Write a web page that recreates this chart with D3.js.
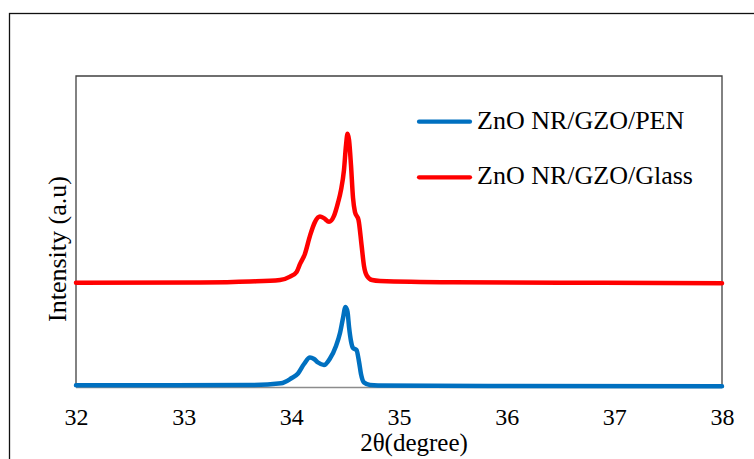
<!DOCTYPE html>
<html>
<head>
<meta charset="utf-8">
<script src="https://cdn.jsdelivr.net/npm/d3@7"></script>
<style>
  body { margin: 0; background: #fff; }
  svg text { font-family: "Liberation Serif", "Times New Roman", Times, "DejaVu Serif", serif; fill: #000; }
</style>
</head>
<body>
<svg id="chart" width="754" height="459"></svg>
<script>
// 2theta (degree) and intensity (a.u.)
const penAngle = [32.000, 33.616, 33.904, 33.997, 34.062, 34.118, 34.173, 34.211, 34.248, 34.303,
  34.359, 34.415, 34.452, 34.480, 34.503, 34.522, 34.536, 34.554, 34.573, 34.605,
  34.629, 34.647, 34.675, 34.731, 34.805, 35.938, 38.000]
const penIntensity = [0.55, 0.64, 1.19, 2.73, 4.34, 7.40, 9.49, 9.00, 7.88, 7.07,
  9.16, 13.18, 17.36, 22.19, 25.72, 24.12, 19.29, 14.79, 12.54, 11.90,
  8.04, 4.18, 1.45, 0.64, 0.48, 0.32, 0.23]

const glassAngle = [32.000, 33.152, 33.616, 33.895, 33.988, 34.049, 34.080, 34.126, 34.173, 34.220,
  34.266, 34.303, 34.350, 34.396, 34.433, 34.461, 34.489, 34.508, 34.522, 34.536,
  34.554, 34.573, 34.591, 34.624, 34.652, 34.675, 34.703, 34.750, 34.824, 35.502,
  36.895, 38.000]
const glassIntensity = [33.5, 33.6, 33.9, 34.4, 35.5, 37.0, 39.5, 42.8, 48.6, 53.1,
  54.8, 54.3, 53.1, 55.0, 59.2, 63.3, 69.8, 77.8, 81.4, 79.4,
  71.4, 60.8, 56.3, 53.7, 45.7, 38.9, 35.7, 34.4, 34.1, 33.7,
  33.5, 33.4]

const xTicks = [32, 33, 34, 35, 36, 37, 38]
const seriesNames = ['ZnO NR/GZO/PEN', 'ZnO NR/GZO/Glass']
const seriesColors = ['#0070C0', '#FF0000']

const serif = '"Liberation Serif", "Times New Roman", Times, "DejaVu Serif", serif'

const svg = d3.select('#chart')

const plotLeft = 76, plotRight = 722, plotTop = 76, plotBottom = 387

const x = d3.scaleLinear().domain([32, 38]).range([plotLeft, plotRight])
const y = d3.scaleLinear().domain([0, 100]).range([plotBottom, plotTop])

// outer frame
svg.append('rect')
  .attr('x', 9.5).attr('y', 13.5)
  .attr('width', 780).attr('height', 480)
  .attr('fill', 'none')
  .attr('stroke', '#111')
  .attr('stroke-width', 1.3)

// plot area frame
svg.append('path')
  .attr('d', `M${plotLeft},${plotBottom}V${plotTop}H${plotRight}V${plotBottom}`)
  .attr('fill', 'none')
  .attr('stroke', '#404040')
  .attr('stroke-width', 1.3)

svg.append('line')
  .attr('x1', plotLeft).attr('x2', plotRight)
  .attr('y1', plotBottom + 0.5).attr('y2', plotBottom + 0.5)
  .attr('stroke', '#8c8c8c')
  .attr('stroke-width', 1.3)

// x axis labels
const xAxis = svg.append('g')
  .attr('transform', `translate(0,${plotBottom})`)
  .call(d3.axisBottom(x).tickValues(xTicks).tickSize(0).tickPadding(21).tickFormat(d3.format('d')))
xAxis.attr('font-family', serif).attr('font-size', 24)
xAxis.select('.domain').remove()
xAxis.selectAll('text')
  .attr('font-family', serif)
  .attr('font-size', 24)
  .attr('fill', '#000')

const line = d3.line()
  .x(d => x(d[0]))
  .y(d => y(d[1]))
  .curve(d3.curveMonotoneX)

const series = [
  d3.zip(penAngle, penIntensity),
  d3.zip(glassAngle, glassIntensity)
]

series.forEach((pts, i) => {
  svg.append('path')
    .datum(pts)
    .attr('d', line)
    .attr('fill', 'none')
    .attr('stroke', seriesColors[i])
    .attr('stroke-width', 4.5)
    .attr('stroke-linejoin', 'round')
    .attr('stroke-linecap', 'round')
})

// axis titles
svg.append('text')
  .attr('x', 414)
  .attr('y', 451)
  .attr('text-anchor', 'middle')
  .attr('font-family', serif)
  .attr('font-size', 25)
  .text('2θ(degree)')

svg.append('text')
  .attr('transform', 'translate(66,249) rotate(-90)')
  .attr('text-anchor', 'middle')
  .attr('font-family', serif)
  .attr('font-size', 26)
  .text('Intensity (a.u)')

// legend
const legend = svg.append('g')
seriesNames.forEach((name, i) => {
  const ly = 121.7 + i * 55.6
  legend.append('line')
    .attr('x1', 419).attr('x2', 470)
    .attr('y1', ly).attr('y2', ly)
    .attr('stroke', seriesColors[i])
    .attr('stroke-width', 4.2)
    .attr('stroke-linecap', 'round')
  legend.append('text')
    .attr('x', 477)
    .attr('y', ly + 6.8)
    .attr('font-family', serif)
    .attr('font-size', 26)
    .text(name)
})
</script>
</body>
</html>
